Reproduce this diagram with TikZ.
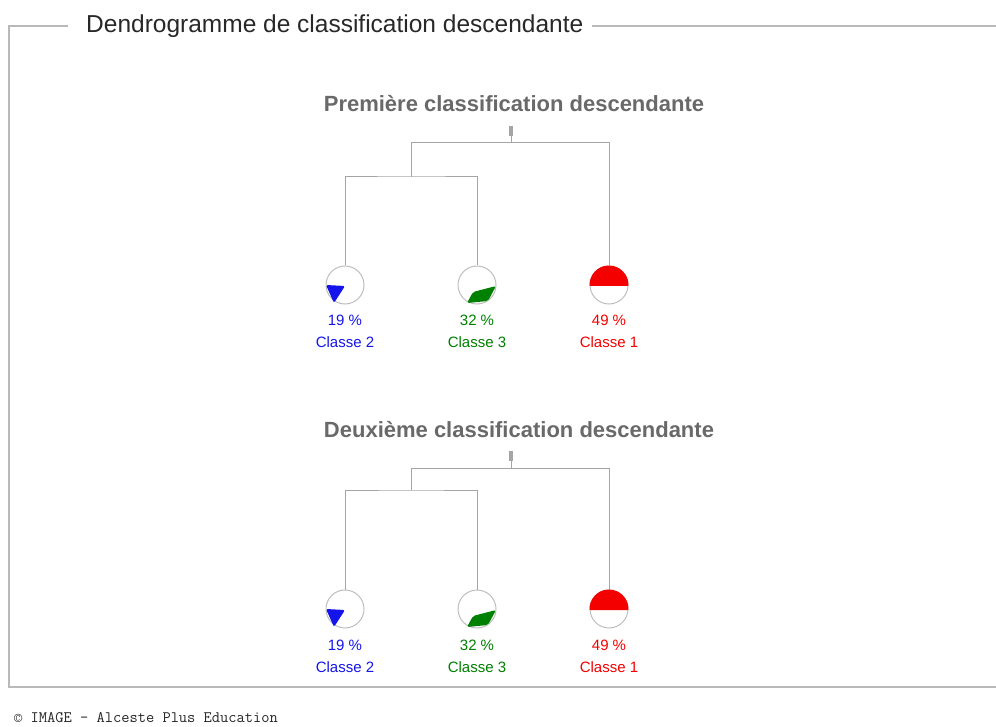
\documentclass[tikz,border=0pt]{standalone}
\usepackage{fontspec}
\setmainfont{Liberation Sans}
\definecolor{framegray}{RGB}{185,185,185}
\definecolor{linegray}{RGB}{165,165,165}
\definecolor{circgray}{RGB}{190,190,190}
\definecolor{subgray}{RGB}{105,105,105}
\definecolor{titlegray}{RGB}{40,40,40}
\definecolor{cblue}{RGB}{20,20,235}
\definecolor{cgreen}{RGB}{0,128,0}
\definecolor{cred}{RGB}{245,0,0}
\begin{document}
\begin{tikzpicture}[x=1pt,y=1pt,
  frameline/.style={draw=framegray,line width=1.6pt},
  dendro/.style={draw=linegray,line width=1pt},
  pie/.style={circle,draw=circgray,line width=1pt,minimum size=38pt,inner sep=0pt},
  rootbox/.style={rectangle,fill=linegray,minimum width=4pt,minimum height=10pt,inner sep=0pt},
  subtitle/.style={font=\fontsize{22}{26}\selectfont\bfseries,text=subgray,anchor=base,inner sep=0pt},
  pct/.style={font=\fontsize{15}{18}\selectfont,anchor=base,inner sep=0pt},
]
\useasboundingbox (0,0) rectangle (996,-727);
% frame
\node[anchor=base west,inner sep=0pt,font=\fontsize{24.5}{28}\selectfont,text=titlegray] (title) at (86,-33) {Dendrogramme de classification descendante};
\draw[frameline] (68,-26) -- (9,-26) -- (9,-687) -- (996,-687);
\draw[frameline] (592,-26) -- (996,-26);

% ===== upper dendrogram =====
\node[subtitle] (stA) at (514,-112) {Première classification descendante};
\node[rootbox] (rA) at (511,-131) {};
\coordinate (jA1) at (411,-143);
\coordinate (jA2) at (411,-177);
\node[pie] (c2A) at (345,-285) {};
\node[pie] (c3A) at (477,-285) {};
\node[pie] (c1A) at (609,-285) {};
\draw[dendro] (rA.south) -- (rA.south |- jA1);
\draw[dendro] (jA1) -| (c1A.north);
\draw[dendro] (jA1) -- (jA2);
\draw[dendro] (c2A.north) |- (jA2) -| (c3A.north);
\fill[cblue,rounded corners=1.5pt] ([shift={(-19,0)}]c2A.center) -- ([shift={(0,-1)}]c2A.center) -- ([shift={(-11,-18)}]c2A.center) -- cycle;
\fill[cgreen,rounded corners=2pt] ([shift={(-10,-18)}]c3A.center) -- ([shift={(-4,-7)}]c3A.center) -- ([shift={(19,-1)}]c3A.center) -- ([shift={(11,-16)}]c3A.center) -- cycle;
\fill[cred] ([shift={(-19.5,-1)}]c1A.center) arc[start angle=183,end angle=-3,radius=19.5] -- cycle;
\node[pct,text=cblue] (p2A) at (345,-326) {19 \%};
\node[pct,text=cblue] (l2A) at (345,-348) {Classe 2};
\node[pct,text=cgreen] (p3A) at (477,-326) {32 \%};
\node[pct,text=cgreen] (l3A) at (477,-348) {Classe 3};
\node[pct,text=cred] (p1A) at (609,-326) {49 \%};
\node[pct,text=cred] (l1A) at (609,-348) {Classe 1};

% ===== lower dendrogram =====
\node[subtitle] (stB) at (519,-437) {Deuxième classification descendante};
\node[rootbox] (rB) at (511,-456) {};
\coordinate (jB1) at (411,-468);
\coordinate (jB2) at (411,-490);
\node[pie] (c2B) at (345,-609) {};
\node[pie] (c3B) at (477,-609) {};
\node[pie] (c1B) at (609,-609) {};
\draw[dendro] (rB.south) -- (rB.south |- jB1);
\draw[dendro] (jB1) -| (c1B.north);
\draw[dendro] (jB1) -- (jB2);
\draw[dendro] (c2B.north) |- (jB2) -| (c3B.north);
\fill[cblue,rounded corners=1.5pt] ([shift={(-19,0)}]c2B.center) -- ([shift={(0,-1)}]c2B.center) -- ([shift={(-11,-18)}]c2B.center) -- cycle;
\fill[cgreen,rounded corners=2pt] ([shift={(-10,-18)}]c3B.center) -- ([shift={(-4,-7)}]c3B.center) -- ([shift={(19,-1)}]c3B.center) -- ([shift={(11,-16)}]c3B.center) -- cycle;
\fill[cred] ([shift={(-19.5,-1)}]c1B.center) arc[start angle=183,end angle=-3,radius=19.5] -- cycle;
\node[pct,text=cblue] (p2B) at (345,-650) {19 \%};
\node[pct,text=cblue] (l2B) at (345,-672) {Classe 2};
\node[pct,text=cgreen] (p3B) at (477,-650) {32 \%};
\node[pct,text=cgreen] (l3B) at (477,-672) {Classe 3};
\node[pct,text=cred] (p1B) at (609,-650) {49 \%};
\node[pct,text=cred] (l1B) at (609,-672) {Classe 1};

% footer
\node[anchor=base west,inner sep=0pt,font=\fontsize{16}{19}\selectfont\ttfamily,text=black!85] (foot) at (14,-722) {© IMAGE - Alceste Plus Education};
\end{tikzpicture}
\end{document}
